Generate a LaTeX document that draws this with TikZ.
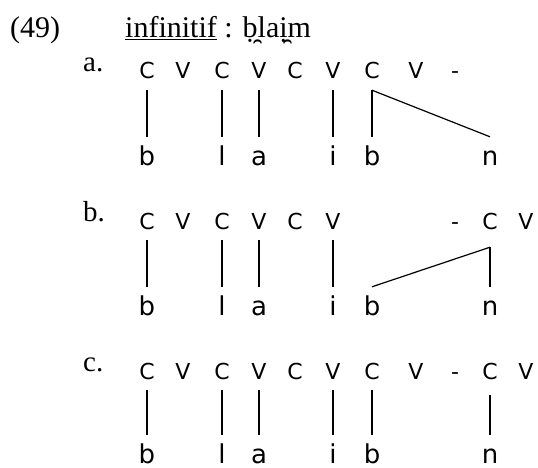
\documentclass[tikz,border=0pt]{standalone}
\usepackage{fontspec}
\setmainfont{Liberation Serif}
\newfontfamily\cvfont{DejaVu Sans}
\usetikzlibrary{calc}

\begin{document}
\begin{tikzpicture}[x=1pt, y=-1pt,
	cv/.style={font=\cvfont\fontsize{22}{22}\selectfont, anchor=base, inner sep=0pt, text depth=11pt},
	seg/.style={font=\cvfont\fontsize{26}{26}\selectfont, anchor=base, inner sep=0pt, text height=28pt},
	lbl/.style={font=\fontsize{29}{30}\selectfont, anchor=base west, inner sep=0pt},
	assoc/.style={line width=1.2pt}]
	\useasboundingbox (0,0) rectangle (538,468);
	% heading
	\node[lbl, font=\fontsize{30}{32}\selectfont] (exnum) at (10,38) {(49)};
	\node[lbl, font=\fontsize{30}{32}\selectfont] (ttl) at (125,38) {\underline{infinitif} : b^^^^0323^^^^032fla^^^^0069^^^^0323^^^^032fm};
	% a.
	\node[lbl] (la) at (83,72) {a.};
	\foreach \x/\t/\n in {147/C/C1, 183/V/V1, 222/C/C2, 259/V/V2, 295/C/C3, 333/V/V3, 372/C/C4, 416/V/V4, 455/-/d}
		\node[cv] (a\n) at (\x,79) {\t};
	\node[seg] (ab1) at (147,165) {b};
	\node[seg] (al) at (222,165) {l};
	\node[seg] (aa) at (259,165) {a};
	\node[seg] (ai) at (333,165) {i};
	\node[seg] (ab2) at (372,165) {b};
	\node[seg] (an) at (490,165) {n};
	\draw[assoc] (aC1.south) -- (ab1.north);
	\draw[assoc] (aC2.south) -- (al.north);
	\draw[assoc] (aV2.south) -- (aa.north);
	\draw[assoc] (aV3.south) -- (ai.north);
	\draw[assoc] (aC4.south) -- (ab2.north);
	\draw[assoc] (aC4.south) -- (an.north);
	% b.
	\node[lbl] (lb) at (83,221) {b.};
	\foreach \x/\t/\n in {147/C/C1, 183/V/V1, 222/C/C2, 259/V/V2, 295/C/C3, 333/V/V3, 455/-/d, 490/C/C5, 526/V/V5}
		\node[cv] (b\n) at (\x,229) {\t};
	\node[seg] (bb1) at (147,315) {b};
	\node[seg] (bl) at (222,315) {l};
	\node[seg] (ba) at (259,315) {a};
	\node[seg] (bi) at (333,315) {i};
	\node[seg] (bb2) at (372,315) {b};
	\node[seg] (bn) at (490,315) {n};
	\coordinate (bj) at ($(bC5.south)+(0,7)$);
	\draw[assoc] (bC1.south) -- (bb1.north);
	\draw[assoc] (bC2.south) -- (bl.north);
	\draw[assoc] (bV2.south) -- (ba.north);
	\draw[assoc] (bV3.south) -- (bi.north);
	\draw[assoc] (bj) -- (bn.north);
	\draw[assoc] (bj) -- (bb2.north);
	% c.
	\node[lbl] (lc) at (83,371) {c.};
	\foreach \x/\t/\n in {147/C/C1, 183/V/V1, 222/C/C2, 259/V/V2, 295/C/C3, 333/V/V3, 372/C/C4, 416/V/V4, 455/-/d, 490/C/C5, 526/V/V5}
		\node[cv] (c\n) at (\x,379) {\t};
	\node[seg] (cb1) at (147,463) {b};
	\node[seg] (cl) at (222,463) {l};
	\node[seg] (ca) at (259,463) {a};
	\node[seg] (ci) at (333,463) {i};
	\node[seg] (cb2) at (372,463) {b};
	\node[seg] (cn) at (490,463) {n};
	\draw[assoc] (cC1.south) -- (cb1.north);
	\draw[assoc] (cC2.south) -- (cl.north);
	\draw[assoc] (cV2.south) -- (ca.north);
	\draw[assoc] (cV3.south) -- (ci.north);
	\draw[assoc] (cC4.south) -- (cb2.north);
	\draw[assoc] ([yshift=-5pt]cC5.south) -- (cn.north);
\end{tikzpicture}
\end{document}
